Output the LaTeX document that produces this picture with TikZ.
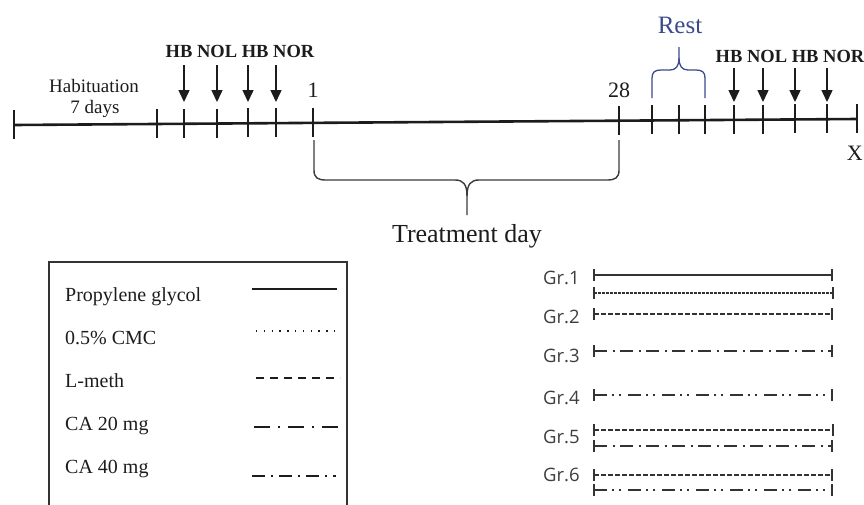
\documentclass[tikz,border=0pt]{standalone}
\usepackage{fontspec}
\setmainfont{Liberation Serif}
\newfontfamily\grfont{Open Sans}
\usetikzlibrary{arrows.meta}
\definecolor{ink}{HTML}{1C1C1C}
\definecolor{restblue}{HTML}{3A4A8C}
\definecolor{bracegray}{HTML}{3A3A3A}
\definecolor{boxgray}{HTML}{333333}
\tikzset{
  mainline/.style={line width=2.6pt, draw=ink},
  tickmark/.style={line width=2.4pt, draw=ink},
  downarrow/.style={line width=1.5pt, draw=ink, -{Triangle[width=11pt,length=12pt]}},
  tbrace/.style={line width=1.4pt, draw=bracegray},
  rbrace/.style={line width=1.3pt, draw=restblue},
  lbl/.style={inner sep=0pt, text=ink, anchor=base},
  legtext/.style={inner sep=0pt, text=ink, anchor=base west, font=\fontsize{20}{20}\selectfont},
  legline/.style={line width=1.6pt, draw=ink},
  grline/.style={line width=1.7pt, draw=ink!90, {Bar[width=12pt,line width=1.7pt]}-{Bar[width=12pt,line width=1.7pt]}},
  grlabel/.style={inner sep=0pt, anchor=base west, text=ink!85, font=\grfont\fontsize{18.5}{18.5}\selectfont},
  legdots/.style={dash pattern=on 1.3pt off 6.5pt},
  legdash/.style={dash pattern=on 8pt off 6pt},
  legdashdot/.style={dash pattern=on 16pt off 8pt on 2pt off 8pt},
  legdashdotb/.style={dash pattern=on 13pt off 6pt on 2pt off 6pt},
  finedash/.style={dash pattern=on 2.5pt off 1.5pt},
  grdash/.style={dash pattern=on 5pt off 2pt},
  grdashdot/.style={dash pattern=on 13pt off 5.5pt on 2pt off 5.5pt},
  grdashdotdot/.style={dash pattern=on 13pt off 5pt on 2pt off 5pt on 2pt off 7pt},
}
\begin{document}
\begin{tikzpicture}[x=1pt,y=-1pt]
\useasboundingbox (0,0) rectangle (864,504);

% ---- timeline ----
\foreach \x [count=\i] in {14,157,184,217,248,276,313,619,652,679,705,734,763,795,827,857}
  \coordinate (t\i) at (\x,{125-6*(\x-14)/843});
\draw[mainline] (t1) -- (t16);
\foreach \i in {1,...,16}
  \draw[tickmark] ([yshift=15pt]t\i) -- ([yshift=-14pt]t\i);

% ---- arrows ----
\foreach \x [count=\i] in {184,217,248,276} {
  \coordinate (las\i) at (\x,65);
  \coordinate (lae\i) at (\x,102);
  \draw[downarrow] (las\i) -- (lae\i);
}
\foreach \x [count=\i] in {734,763,795,827} {
  \coordinate (ras\i) at (\x,68);
  \coordinate (rae\i) at (\x,102);
  \draw[downarrow] (ras\i) -- (rae\i);
}

% ---- labels ----
\node[lbl, font=\bfseries\fontsize{18.5}{18.5}\selectfont] (hbleft) at (240,57) {HB NOL HB NOR};
\node[lbl, font=\bfseries\fontsize{18.5}{18.5}\selectfont] (hbright) at (790,62) {HB NOL HB NOR};
\node[lbl, font=\fontsize{19}{19}\selectfont] (habit) at (94,92) {Habituation};
\node[lbl, font=\fontsize{19}{19}\selectfont] (days) at (95,113) {7 days};
\node[lbl, font=\fontsize{22}{22}\selectfont] (one) at (313,97) {1};
\node[lbl, font=\fontsize{22}{22}\selectfont] (twentyeight) at (619,97) {28};
\node[lbl, text=restblue, font=\fontsize{25}{25}\selectfont] (rest) at (680,33) {Rest};
\node[lbl, font=\fontsize{26}{26}\selectfont] (treat) at (467,242) {Treatment day};
\node[inner sep=0pt, anchor=base east, text=ink, font=\fontsize{22}{22}\selectfont] (xend) at (863,160) {X};

% ---- treatment brace ----
\draw[tbrace] (314,140) -- (314,170) .. controls (314,178) and (318,180) .. (326,180)
  -- (455,180) .. controls (463,180) and (467,184) .. (467,196) -- (467,215);
\draw[tbrace] (619,140) -- (619,170) .. controls (619,178) and (615,180) .. (607,180)
  -- (479,180) .. controls (471,180) and (467,184) .. (467,196);

% ---- rest brace ----
\draw[rbrace] (652,98) -- (652,78) .. controls (652,72) and (655,70) .. (661,70)
  -- (670,70) .. controls (676,70) and (679,66) .. (679,58) -- (679,47);
\draw[rbrace] (705,98) -- (705,78) .. controls (705,72) and (702,70) .. (696,70)
  -- (688,70) .. controls (682,70) and (679,66) .. (679,58);

% ---- legend box ----
\draw[line width=1.2pt, draw=boxgray] (49,262) rectangle (347,515);
\node[legtext] (lg1) at (65,301) {Propylene glycol};
\node[legtext] (lg2) at (65,344) {0.5\% CMC};
\node[legtext] (lg3) at (65,387) {L-meth};
\node[legtext] (lg4) at (65,430) {CA 20 mg};
\node[legtext] (lg5) at (65,473) {CA 40 mg};
\coordinate (ls1) at (252,289); \coordinate (le1) at (337,289);
\coordinate (ls2) at (256,331); \coordinate (le2) at (337,331);
\coordinate (ls3) at (256,378); \coordinate (le3) at (340,378);
\coordinate (ls4) at (254,427); \coordinate (le4) at (338,427);
\coordinate (ls5) at (252,476); \coordinate (le5) at (336,476);
\draw[legline] (ls1) -- (le1);
\draw[legline, line width=1.3pt, legdots] (ls2) -- (le2);
\draw[legline, legdash] (ls3) -- (le3);
\draw[legline, legdashdot] (ls4) -- (le4);
\draw[legline, line width=1.9pt, legdashdotb] (ls5) -- (le5);

% ---- groups ----
\node[grlabel] (g1) at (543,284) {Gr.1};
\node[grlabel] (g2) at (543,323) {Gr.2};
\node[grlabel] (g3) at (543,362) {Gr.3};
\node[grlabel] (g4) at (543,404) {Gr.4};
\node[grlabel] (g5) at (543,443) {Gr.5};
\node[grlabel] (g6) at (543,481) {Gr.6};

\coordinate (g1as) at (593,275); \coordinate (g1ae) at (833,275);
\coordinate (g1bs) at (593,293); \coordinate (g1be) at (834,293);
\coordinate (g2s) at (593,314); \coordinate (g2e) at (833,314);
\coordinate (g3s) at (593,351); \coordinate (g3e) at (833,351);
\coordinate (g4s) at (593,395); \coordinate (g4e) at (833,395);
\coordinate (g5as) at (593,430); \coordinate (g5ae) at (834,430);
\coordinate (g5bs) at (593,446); \coordinate (g5be) at (833,446);
\coordinate (g6as) at (593,475); \coordinate (g6ae) at (833,475);
\coordinate (g6bs) at (593,490); \coordinate (g6be) at (833,490);

\draw[grline] (g1as) -- (g1ae);
\draw[grline, finedash] (g1bs) -- (g1be);
\draw[grline, grdash] (g2s) -- (g2e);
\draw[grline, grdashdot] (g3s) -- (g3e);
\draw[grline, grdashdotdot] (g4s) -- (g4e);
\draw[grline, grdash] (g5as) -- (g5ae);
\draw[grline, grdashdot] (g5bs) -- (g5be);
\draw[grline, grdash] (g6as) -- (g6ae);
\draw[grline, grdashdotdot] (g6bs) -- (g6be);
\end{tikzpicture}
\end{document}
